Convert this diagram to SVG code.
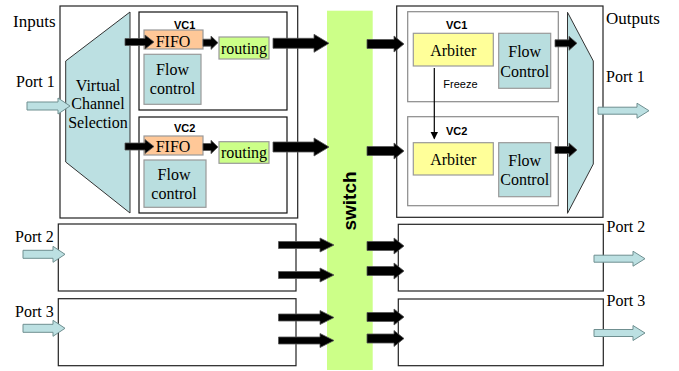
<svg xmlns="http://www.w3.org/2000/svg" width="679" height="371" viewBox="0 0 679 371">
<style>
.t{font-family:"Liberation Serif","Times New Roman",serif;font-size:16px;fill:#000}
.lbl{font-family:"Liberation Serif","Times New Roman",serif;font-size:17px;fill:#000}
.vc{font-family:"Liberation Sans",Arial,sans-serif;font-size:11px;font-weight:bold;fill:#000}
.sm{font-family:"Liberation Sans",Arial,sans-serif;font-size:11px;fill:#000}
.box{fill:#fff;stroke:#222;stroke-width:1.2}
.vcin{fill:#fff;stroke:#111;stroke-width:1.2}
.vcout{fill:#fff;stroke:#8a8a8a;stroke-width:1.2}
.fifo{fill:#FFC898;stroke:#999;stroke-width:1.2}
.rout{fill:#CCFF88;stroke:#999;stroke-width:1.2}
.fc{fill:#B9DEDF;stroke:#999;stroke-width:1.2}
.arb{fill:#FFFF99;stroke:#999;stroke-width:1.2}
.trap{fill:#BCE0E2;stroke:#333;stroke-width:1}
.ba{fill:#000;stroke:#555;stroke-width:0.8}
.la{fill:#BCE0E2;stroke:#6f8f90;stroke-width:1}
</style>
<defs>
<marker id="ah" markerWidth="8" markerHeight="8" refX="7" refY="4" orient="auto" markerUnits="userSpaceOnUse">
<path d="M0,0 L8,4 L0,8 Z" fill="#000"/>
</marker>
</defs>

<g id="switch">
<rect x="327" y="10.7" width="45.7" height="359.3" fill="#CCFF88"/>
<text transform="translate(356,201) rotate(-90)" text-anchor="middle" font-family="Liberation Sans,Arial,sans-serif" font-weight="bold" font-size="19">switch</text>
</g>

<g id="labels">
<text class="lbl" x="13" y="27">Inputs</text>
<text class="t" x="16" y="87">Port 1</text>
<text class="t" x="15" y="242">Port 2</text>
<text class="t" x="15" y="317">Port 3</text>
<text class="lbl" x="606" y="24">Outputs</text>
<text class="t" x="606" y="82">Port 1</text>
<text class="t" x="606.5" y="232">Port 2</text>
<text class="t" x="606.5" y="306">Port 3</text>
</g>

<g id="input-port1">
<rect class="box" x="60" y="6" width="237.7" height="212"/>
<polygon class="trap" points="65.7,61 130,12 130,213 65.7,162"/>
<text class="t" text-anchor="middle" x="98" y="91">Virtual</text>
<text class="t" text-anchor="middle" x="98" y="109">Channel</text>
<text class="t" text-anchor="middle" x="98" y="127.5">Selection</text>
</g>

<g id="in-vc1">
<rect class="vcin" x="139" y="12" width="148" height="98"/>
<text class="vc" x="174" y="28.5">VC1</text>
<rect class="fifo" x="144" y="30" width="59" height="19"/>
<text class="t" text-anchor="middle" x="173" y="46.5">FIFO</text>
<rect class="rout" x="219" y="37" width="50" height="22"/>
<text class="t" text-anchor="middle" x="244" y="53.5">routing</text>
<rect class="fc" x="144" y="54.3" width="57" height="50"/>
<text class="t" text-anchor="middle" x="172.5" y="75">Flow</text>
<text class="t" text-anchor="middle" x="172.5" y="93.5">control</text>
</g>

<g id="in-vc2">
<rect class="vcin" x="139" y="117" width="148" height="96"/>
<text class="vc" x="174" y="131.5">VC2</text>
<rect class="fifo" x="144" y="136" width="59" height="19"/>
<text class="t" text-anchor="middle" x="173" y="151.5">FIFO</text>
<rect class="rout" x="219" y="141.7" width="50" height="21.6"/>
<text class="t" text-anchor="middle" x="244" y="157.5">routing</text>
<rect class="fc" x="144" y="160" width="62" height="47.3"/>
<text class="t" text-anchor="middle" x="174" y="180">Flow</text>
<text class="t" text-anchor="middle" x="174" y="198.5">control</text>
</g>

<g id="input-port2">
<rect class="box" x="58.3" y="224" width="237.7" height="67"/>
</g>
<g id="input-port3">
<rect class="box" x="58.3" y="298.7" width="237.7" height="67"/>
</g>

<g id="output-port1">
<rect class="box" x="396.7" y="6" width="206.3" height="211.3"/>
<polygon class="trap" points="567.5,12.3 593.3,61 593.3,164 567.5,213.3"/>
</g>

<g id="out-vc1">
<rect class="vcout" x="407.7" y="11.7" width="150.6" height="90"/>
<text class="vc" x="446" y="28.5">VC1</text>
<rect class="arb" x="413.3" y="33.3" width="80" height="32.7"/>
<text class="t" text-anchor="middle" x="453.3" y="56">Arbiter</text>
<rect class="fc" x="498.7" y="33.3" width="52" height="55"/>
<text class="t" text-anchor="middle" x="524.7" y="57.3">Flow</text>
<text class="t" text-anchor="middle" x="524.7" y="76.7">Control</text>
<text class="sm" x="443.3" y="88.3">Freeze</text>
</g>

<g id="out-vc2">
<rect class="vcout" x="407.7" y="116.7" width="150.6" height="89"/>
<text class="vc" x="446" y="135">VC2</text>
<rect class="arb" x="413.3" y="142.7" width="80" height="32.3"/>
<text class="t" text-anchor="middle" x="453.3" y="165">Arbiter</text>
<rect class="fc" x="498.7" y="142.7" width="52" height="54"/>
<text class="t" text-anchor="middle" x="524.7" y="165.7">Flow</text>
<text class="t" text-anchor="middle" x="524.7" y="185">Control</text>
</g>

<g id="output-port2">
<rect class="box" x="398.3" y="224.3" width="205" height="66.7"/>
</g>
<g id="output-port3">
<rect class="box" x="398.3" y="299" width="205" height="66.7"/>
</g>

<g id="connectors">
<!-- light blue port arrows -->
<path class="la" d="M27,102 L58,102 L58,98 L70,106 L58,114 L58,110 L27,110 Z"/>
<path class="la" d="M23,250.3 L53,250.3 L53,246.3 L65,254.3 L53,262.3 L53,258.3 L23,258.3 Z"/>
<path class="la" d="M23,324.3 L53,324.3 L53,320.3 L65,328.3 L53,336.3 L53,332.3 L23,332.3 Z"/>
<path class="la" d="M598,107.2 L637,107.2 L637,103.2 L649,110.7 L637,118.2 L637,114.2 L598,114.2 Z"/>
<path class="la" d="M594,255.2 L633,255.2 L633,251.2 L645,258.7 L633,266.2 L633,262.2 L594,262.2 Z"/>
<path class="la" d="M594,329.5 L633,329.5 L633,325.5 L645,333 L633,340.5 L633,336.5 L594,336.5 Z"/>

<!-- input VC arrows -->
<path class="ba" d="M125,38.5 L145,38.5 L145,35 L154,42 L145,49 L145,45.5 L125,45.5 Z"/>
<path class="ba" d="M203,39.2 L211,39.2 L211,36 L218,42.7 L211,49.4 L211,46.2 L203,46.2 Z"/>
<path class="ba" d="M273,38.3 L314,38.3 L314,34.3 L329,43.3 L314,52.3 L314,48.3 L273,48.3 Z"/>
<path class="ba" d="M125,143 L145,143 L145,139.5 L154,146.5 L145,153.5 L145,150 L125,150 Z"/>
<path class="ba" d="M203,143.5 L211,143.5 L211,140.3 L218,147 L211,153.7 L211,150.5 L203,150.5 Z"/>
<path class="ba" d="M273,142 L314,142 L314,138 L329,147 L314,156 L314,152 L273,152 Z"/>

<!-- switch to output VCs -->
<path class="ba" d="M367,39.5 L394,39.5 L394,36 L404,44 L394,52 L394,48.5 L367,48.5 Z"/>
<path class="ba" d="M367,146.5 L394,146.5 L394,143 L404,151 L394,159 L394,155.5 L367,155.5 Z"/>

<!-- output VCs to trapezoid -->
<path class="ba" d="M555,39.8 L569,39.8 L569,36.3 L577,43.3 L569,50.3 L569,46.8 L555,46.8 Z"/>
<path class="ba" d="M555,146.5 L569,146.5 L569,143 L577,150 L569,157 L569,153.5 L555,153.5 Z"/>

<!-- bottom input arrows -->
<path class="ba" d="M278.5,241.5 L320,241.5 L320,238 L334,245 L320,252 L320,248.5 L278.5,248.5 Z"/>
<path class="ba" d="M278.5,271.5 L320,271.5 L320,268 L334,275 L320,282 L320,278.5 L278.5,278.5 Z"/>
<path class="ba" d="M278.5,314 L320,314 L320,310.5 L334,317.5 L320,324.5 L320,321 L278.5,321 Z"/>
<path class="ba" d="M278.5,337 L320,337 L320,333.5 L334,340.5 L320,347.5 L320,344 L278.5,344 Z"/>

<!-- bottom output arrows -->
<path class="ba" d="M367,241.5 L394,241.5 L394,238 L404,246 L394,254 L394,250.5 L367,250.5 Z"/>
<path class="ba" d="M367,266.5 L394,266.5 L394,263 L404,271 L394,279 L394,275.5 L367,275.5 Z"/>
<path class="ba" d="M367,312.5 L394,312.5 L394,309 L404,317 L394,325 L394,321.5 L367,321.5 Z"/>
<path class="ba" d="M367,334 L394,334 L394,330.5 L404,338.5 L394,346.5 L394,343 L367,343 Z"/>

<!-- freeze -->
<line x1="434.3" y1="68" x2="434.3" y2="138.5" stroke="#000" stroke-width="1.2" marker-end="url(#ah)"/>
</g>
</svg>
